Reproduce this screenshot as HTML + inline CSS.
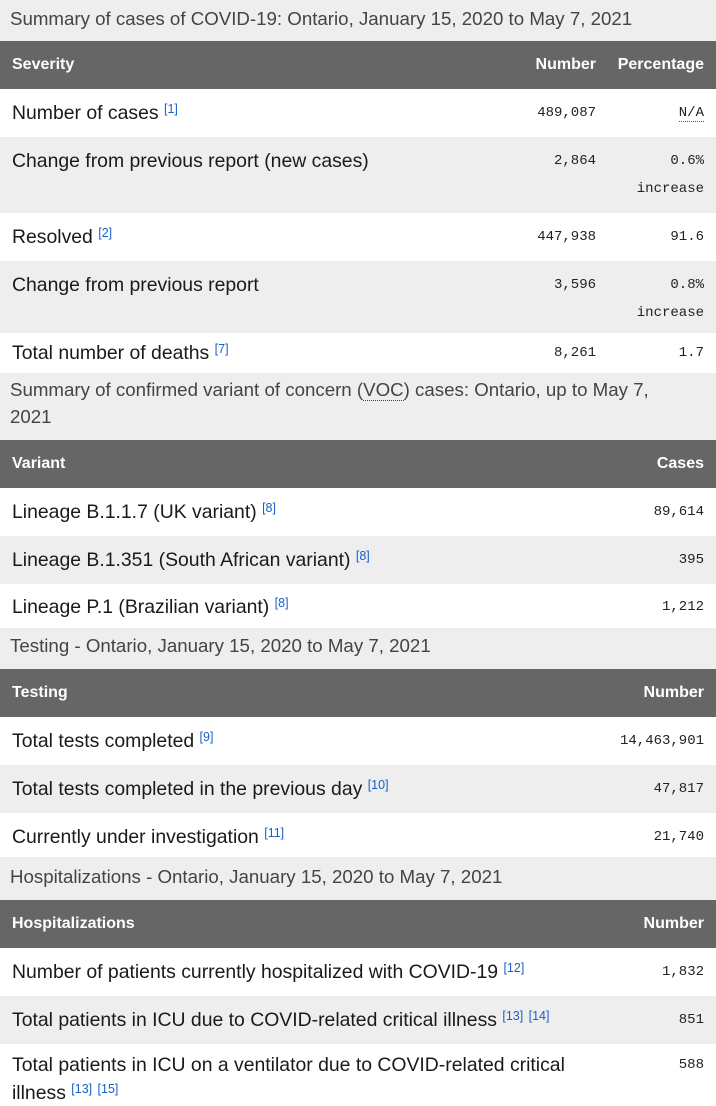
<!DOCTYPE html>
<html><head><meta charset="utf-8"><style>
*{margin:0;padding:0;box-sizing:border-box}
body{width:716px;height:1106px;overflow:hidden;background:#fff;font-family:"Liberation Sans",sans-serif;color:#1a1a1a;position:relative}
.b{position:absolute;left:0;width:716px}
.g{background:#eeeeee}.h{background:#666666}
.t{position:absolute;white-space:nowrap;font-size:19.4px;line-height:22px}
.cap{color:#444;font-size:18.7px}
.hd{color:#fff;font-weight:bold;font-size:16px}
.m{position:absolute;white-space:nowrap;font-family:"Liberation Mono",monospace;font-size:14px;line-height:16px;color:#222;text-align:right}
sup{color:#1a5fc8;font-size:12.5px;vertical-align:6px;line-height:0}
.r{right:12px}
</style></head><body>
<div class="b g" style="top:0;height:41px"></div>
<div class="b h" style="top:41px;height:48px"></div>
<div class="b g" style="top:137px;height:76px"></div>
<div class="b g" style="top:261px;height:72px"></div>
<div class="b g" style="top:373px;height:67px"></div>
<div class="b h" style="top:440px;height:48px"></div>
<div class="b g" style="top:536px;height:48px"></div>
<div class="b g" style="top:628px;height:41px"></div>
<div class="b h" style="top:669px;height:48px"></div>
<div class="b g" style="top:765px;height:48px"></div>
<div class="b g" style="top:857px;height:43px"></div>
<div class="b h" style="top:900px;height:48px"></div>
<div class="b g" style="top:996px;height:48px"></div>

<div class="t cap" style="left:10px;top:8px">Summary of cases of COVID-19: Ontario, January 15, 2020 to May 7, 2021</div>
<div class="t hd" style="left:12px;top:54px">Severity</div>
<div class="t hd" style="right:120px;top:54px">Number</div>
<div class="t hd" style="right:12px;top:54px">Percentage</div>
<div class="t" style="left:12px;top:102px">Number of cases <sup>[1]</sup></div>
<div class="m" style="right:120px;top:105px">489,087</div>
<div class="m r" style="top:105px;border-bottom:1px dotted #555">N/A</div>
<div class="t" style="left:12px;top:150px">Change from previous report (new cases)</div>
<div class="m" style="right:120px;top:153px">2,864</div>
<div class="m r" style="top:153px">0.6%</div>
<div class="m r" style="top:181px">increase</div>
<div class="t" style="left:12px;top:226px">Resolved <sup>[2]</sup></div>
<div class="m" style="right:120px;top:229px">447,938</div>
<div class="m r" style="top:229px">91.6</div>
<div class="t" style="left:12px;top:274px">Change from previous report</div>
<div class="m" style="right:120px;top:277px">3,596</div>
<div class="m r" style="top:277px">0.8%</div>
<div class="m r" style="top:305px">increase</div>
<div class="t" style="left:12px;top:342px">Total number of deaths <sup>[7]</sup></div>
<div class="m" style="right:120px;top:345px">8,261</div>
<div class="m r" style="top:345px">1.7</div>

<div class="t cap" style="left:10px;top:379px">Summary of confirmed variant of concern (<span style="border-bottom:1px dotted #444">VOC</span>) cases: Ontario, up to May 7,</div>
<div class="t cap" style="left:10px;top:406px">2021</div>
<div class="t hd" style="left:12px;top:453px">Variant</div>
<div class="t hd" style="right:12px;top:453px">Cases</div>
<div class="t" style="left:12px;top:501px">Lineage B.1.1.7 (UK variant) <sup>[8]</sup></div>
<div class="m r" style="top:504px">89,614</div>
<div class="t" style="left:12px;top:549px">Lineage B.1.351 (South African variant) <sup>[8]</sup></div>
<div class="m r" style="top:552px">395</div>
<div class="t" style="left:12px;top:596px">Lineage P.1 (Brazilian variant) <sup>[8]</sup></div>
<div class="m r" style="top:599px">1,212</div>

<div class="t cap" style="left:10px;top:635px">Testing - Ontario, January 15, 2020 to May 7, 2021</div>
<div class="t hd" style="left:12px;top:682px">Testing</div>
<div class="t hd" style="right:12px;top:682px">Number</div>
<div class="t" style="left:12px;top:730px">Total tests completed <sup>[9]</sup></div>
<div class="m r" style="top:733px">14,463,901</div>
<div class="t" style="left:12px;top:778px">Total tests completed in the previous day <sup>[10]</sup></div>
<div class="m r" style="top:781px">47,817</div>
<div class="t" style="left:12px;top:826px">Currently under investigation <sup>[11]</sup></div>
<div class="m r" style="top:829px">21,740</div>

<div class="t cap" style="left:10px;top:866px">Hospitalizations - Ontario, January 15, 2020 to May 7, 2021</div>
<div class="t hd" style="left:12px;top:913px">Hospitalizations</div>
<div class="t hd" style="right:12px;top:913px">Number</div>
<div class="t" style="left:12px;top:961px">Number of patients currently hospitalized with COVID-19 <sup>[12]</sup></div>
<div class="m r" style="top:964px">1,832</div>
<div class="t" style="left:12px;top:1009px">Total patients in ICU due to COVID-related critical illness <sup>[13]</sup> <sup>[14]</sup></div>
<div class="m r" style="top:1012px">851</div>
<div class="t" style="left:12px;top:1054px">Total patients in ICU on a ventilator due to COVID-related critical</div>
<div class="t" style="left:12px;top:1082px">illness <sup>[13]</sup> <sup>[15]</sup></div>
<div class="m r" style="top:1057px">588</div>
</body></html>
